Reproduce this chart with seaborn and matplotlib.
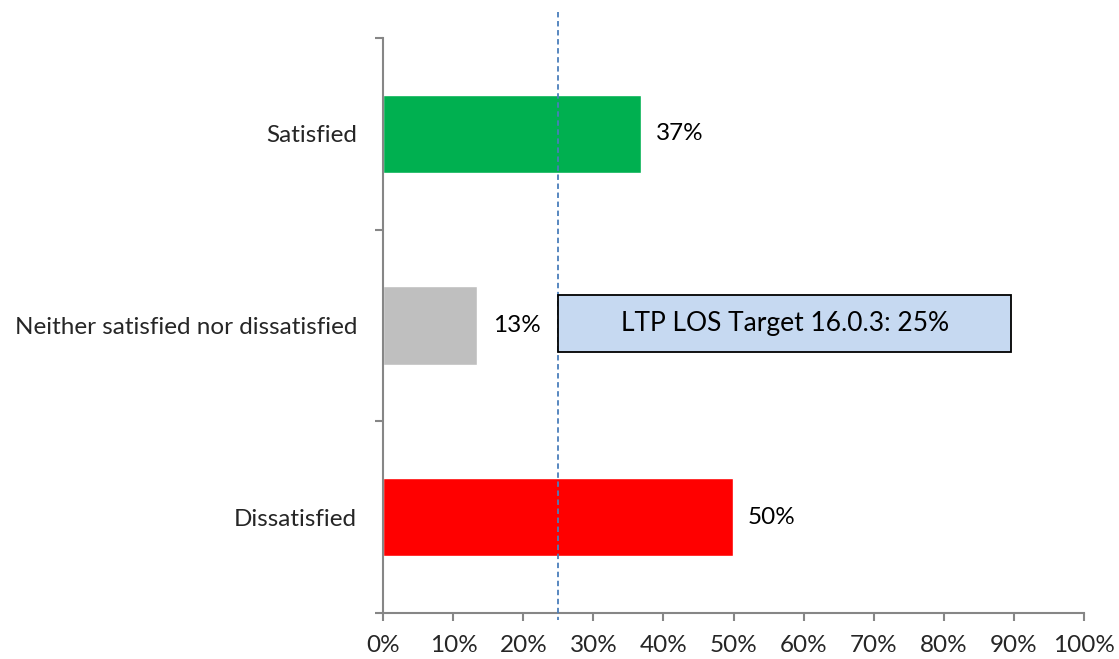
import matplotlib
matplotlib.use('Agg')
import matplotlib.pyplot as plt
import matplotlib.patches as mpatches
import seaborn as sns
import numpy as np

# =====================
# DATA
# =====================
categories = ['Satisfied', 'Neither satisfied nor dissatisfied', 'Dissatisfied']
values     = [36.8, 13.4, 49.9]          # percent
colors     = ['#00B050', '#BFBFBF', '#FF0000']
target     = 25                          # LTP LOS target (%)
target_txt = 'LTP LOS Target 16.0.3: 25%'
x_ticks    = list(range(0, 101, 10))

sns.set_theme(style='white')
plt.rcParams['font.family'] = ['Lato', 'DejaVu Sans']

fig = plt.figure(figsize=(11.19, 6.59), dpi=100)
ax = fig.add_axes([0.3427, 0.0698, 0.6256, 0.8725])

sns.barplot(x=values, y=categories, hue=categories, palette=colors,
            legend=False, width=0.41, orient='h', ax=ax, saturation=1)

ax.set_xlim(0, 100)
ax.set_ylim(2.5, -0.5)

# value labels
for cont in ax.containers:
    ax.bar_label(cont, labels=[f'{v:.0f}%' for v in cont.datavalues],
                 padding=11, fontsize=17.5, color='black')

# spines
for s in ['top', 'right']:
    ax.spines[s].set_visible(False)
for s in ['left', 'bottom']:
    ax.spines[s].set_color('#868686')
    ax.spines[s].set_linewidth(1.5)

# x ticks
ax.set_xticks(x_ticks)
ax.set_xticklabels([f'{t}%' for t in x_ticks], fontsize=17.5)
ax.tick_params(axis='x', bottom=True, length=6, width=1.5, color='#868686', pad=10)

# y ticks: marks at boundaries, labels at centres
ax.set_yticks([-0.5, 0.5, 1.5, 2.5])
ax.set_yticklabels([])
ax.set_yticks([0, 1, 2], minor=True)
ax.set_yticklabels(categories, minor=True, fontsize=17.5)
ax.tick_params(axis='y', which='major', left=True, length=6, width=1.5, color='#868686')
ax.tick_params(axis='y', which='minor', left=True, length=0, pad=19)
ax.set_xlabel('')
ax.set_ylabel('')

# target line
ax.plot([target, target], [-0.636, 2.536], color='#4A7EBB', lw=1.3,
        linestyle=(0, (3, 2)), clip_on=False, zorder=5)

# target box
box = mpatches.Rectangle((target, 0.84), 89.7 - target, 0.297,
                         facecolor='#C6D9F1', edgecolor='black', lw=1.3, zorder=6)
ax.add_patch(box)
ax.text((target + 89.7) / 2, 0.99, target_txt, ha='center', va='center',
        fontsize=19, color='black', zorder=7)

plt.savefig('out.png', dpi=100)
